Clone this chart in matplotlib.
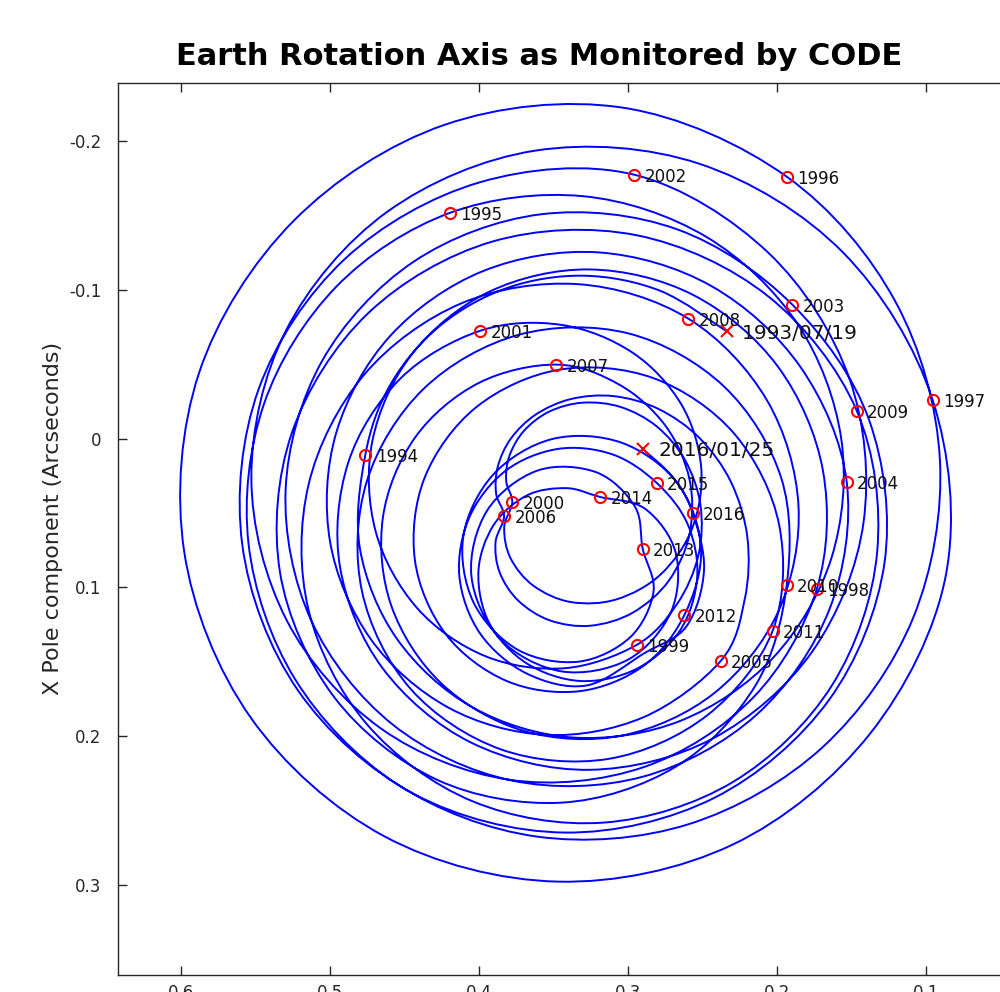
import numpy as np
import matplotlib.pyplot as plt
from matplotlib.path import Path
from matplotlib.patches import PathPatch

plt.rcParams['axes.unicode_minus'] = False

# pole track, about one point a month, 1993/07/19 .. 2016/01/25
# y_pole = horizontal (Y pole component), x_pole = vertical (X pole component), arcsec
y_pole = [
    # 1993/07/19 .. 1994
    0.2340, 0.2790, 0.3303, 0.3815, 0.4263, 0.4593, 0.4765,
    # 1994
    0.4801, 0.4551, 0.4046, 0.3369, 0.2649, 0.2027, 0.1636, 0.1571, 0.1864, 0.2478, 0.3307, 0.4199,
    # 1995
    0.4959, 0.5445, 0.5549, 0.5237, 0.4553, 0.3614, 0.2596, 0.1694, 0.1088, 0.0909, 0.1205, 0.1937,
    # 1996
    0.3037, 0.4235, 0.5248, 0.5881, 0.5981, 0.5535, 0.4636, 0.3473, 0.2302, 0.1377, 0.0868, 0.0957,
    # 1997
    0.1560, 0.2524, 0.3625, 0.4619, 0.5297, 0.5530, 0.5292, 0.4662, 0.3798, 0.2900, 0.2163, 0.1736,
    # 1998
    0.1693, 0.1997, 0.2564, 0.3259, 0.3934, 0.4451, 0.4717, 0.4696, 0.4417, 0.3959, 0.3429, 0.2944,
    # 1999
    0.2675, 0.2530, 0.2516, 0.2619, 0.2809, 0.3052, 0.3305, 0.3531, 0.3700, 0.3797, 0.3820, 0.3779,
    # 2000
    0.3833, 0.3791, 0.3637, 0.3385, 0.3077, 0.2780, 0.2570, 0.2511, 0.2644, 0.2971, 0.3448, 0.3993,
    # 2001
    0.4531, 0.4880, 0.4935, 0.4649, 0.4053, 0.3257, 0.2430, 0.1761, 0.1421, 0.1516, 0.2059, 0.2960,
    # 2002
    0.3997, 0.4904, 0.5481, 0.5591, 0.5217, 0.4436, 0.3427, 0.2424, 0.1653, 0.1281, 0.1384, 0.1899,
    # 2003
    0.2673, 0.3586, 0.4441, 0.5055, 0.5300, 0.5128, 0.4581, 0.3782, 0.2905, 0.2140, 0.1649, 0.1534,
    # 2004
    0.1842, 0.2442, 0.3205, 0.3975, 0.4599, 0.4961, 0.5002, 0.4728, 0.4207, 0.3553, 0.2902, 0.2380,
    # 2005
    0.2219, 0.2201, 0.2312, 0.2524, 0.2800, 0.3098, 0.3383, 0.3620, 0.3788, 0.3876, 0.3887, 0.3834,
    # 2006
    0.3891, 0.3864, 0.3740, 0.3527, 0.3255, 0.2970, 0.2729, 0.2589, 0.2590, 0.2751, 0.3062, 0.3483,
    # 2007
    0.4007, 0.4431, 0.4647, 0.4590, 0.4254, 0.3700, 0.3040, 0.2422, 0.1992, 0.1858, 0.2070, 0.2597,
    # 2008
    0.3338, 0.4121, 0.4774, 0.5146, 0.5146, 0.4755, 0.4047, 0.3164, 0.2295, 0.1632, 0.1330, 0.1467,
    # 2009
    0.2061, 0.2944, 0.3914, 0.4749, 0.5259, 0.5338, 0.4975, 0.4286, 0.3450, 0.2680, 0.2148, 0.1937,
    # 2010
    0.1974, 0.2359, 0.3000, 0.3734, 0.4373, 0.4756, 0.4788, 0.4462, 0.3854, 0.3130, 0.2470, 0.2031,
    # 2011
    0.1987, 0.2287, 0.2829, 0.3462, 0.4019, 0.4366, 0.4432, 0.4225, 0.3818, 0.3334, 0.2901, 0.2624,
    # 2012
    0.2512, 0.2666, 0.3043, 0.3509, 0.3906, 0.4107, 0.4040, 0.3743, 0.3336, 0.2988, 0.2831, 0.2903,
    # 2013
    0.2956, 0.3215, 0.3611, 0.3948, 0.4053, 0.3860, 0.3449, 0.3002, 0.2714, 0.2682, 0.2887, 0.3190,
    # 2014
    0.3414, 0.3679, 0.3904, 0.4006, 0.3933, 0.3681, 0.3317, 0.2940, 0.2653, 0.2538, 0.2601, 0.2809,
    # 2015
    0.3106, 0.3472, 0.3824, 0.4066, 0.4134, 0.3995, 0.3683, 0.3281, 0.2893, 0.2609, 0.2492, 0.2568,
    # 2016 .. 2016/01/25
    0.2699, 0.2903,
]
x_pole = [
    -0.0722, -0.0996, -0.1096, -0.1013, -0.0760, -0.0370, 0.0108,
    0.0741, 0.1349, 0.1807, 0.2010, 0.1897, 0.1472, 0.0800, 0.0001, -0.0771, -0.1358, -0.1631, -0.1518,
    -0.1023, -0.0234, 0.0705, 0.1617, 0.2323, 0.2676, 0.2593, 0.2073, 0.1204, 0.0140, -0.0917, -0.1762,
    -0.2226, -0.2110, -0.1463, -0.0442, 0.0757, 0.1875, 0.2675, 0.2979, 0.2731, 0.1983, 0.0913, -0.0258,
    -0.1253, -0.1849, -0.1937, -0.1525, -0.0728, 0.0263, 0.1223, 0.1948, 0.2294, 0.2210, 0.1742, 0.1013,
    0.0220, -0.0486, -0.0966, -0.1138, -0.0988, -0.0570, 0.0011, 0.0623, 0.1140, 0.1463, 0.1544, 0.1387,
    0.1115, 0.0785, 0.0446, 0.0145, -0.0082, -0.0213, -0.0242, -0.0182, -0.0053, 0.0113, 0.0282, 0.0428,
    0.0597, 0.0803, 0.0989, 0.1099, 0.1080, 0.0910, 0.0599, 0.0194, -0.0230, -0.0578, -0.0765, -0.0726,
    -0.0403, 0.0162, 0.0862, 0.1544, 0.2045, 0.2227, 0.2015, 0.1425, 0.0560, -0.0403, -0.1249, -0.1775,
    -0.1724, -0.1207, -0.0333, 0.0712, 0.1693, 0.2391, 0.2649, 0.2416, 0.1757, 0.0836, -0.0125, -0.0901,
    -0.1408, -0.1509, -0.1190, -0.0523, 0.0344, 0.1223, 0.1923, 0.2299, 0.2274, 0.1857, 0.1144, 0.0293,
    -0.0478, -0.1026, -0.1253, -0.1127, -0.0690, -0.0037, 0.0691, 0.1349, 0.1809, 0.1992, 0.1875, 0.1495,
    0.1081, 0.0664, 0.0290, -0.0006, -0.0201, -0.0286, -0.0267, -0.0163, -0.0001, 0.0188, 0.0371, 0.0522,
    0.0695, 0.0898, 0.1088, 0.1222, 0.1258, 0.1170, 0.0956, 0.0641, 0.0271, -0.0087, -0.0364, -0.0498,
    -0.0373, -0.0008, 0.0529, 0.1126, 0.1647, 0.1966, 0.1996, 0.1710, 0.1159, 0.0451, -0.0259, -0.0807,
    -0.1039, -0.0910, -0.0429, 0.0309, 0.1153, 0.1920, 0.2438, 0.2582, 0.2307, 0.1657, 0.0762, -0.0188,
    -0.0957, -0.1368, -0.1325, -0.0841, -0.0036, 0.0897, 0.1737, 0.2293, 0.2448, 0.2205, 0.1662, 0.0984,
    0.0264, -0.0352, -0.0708, -0.0699, -0.0336, 0.0290, 0.1024, 0.1682, 0.2090, 0.2153, 0.1860, 0.1291,
    0.0584, -0.0031, -0.0406, -0.0464, -0.0213, 0.0260, 0.0819, 0.1315, 0.1629, 0.1699, 0.1530, 0.1186,
    0.0742, 0.0305, 0.0028, 0.0002, 0.0241, 0.0654, 0.1099, 0.1419, 0.1500, 0.1336, 0.1029, 0.0742,
    0.0457, 0.0226, 0.0215, 0.0484, 0.0925, 0.1348, 0.1565, 0.1486, 0.1166, 0.0768, 0.0472, 0.0392,
    0.0333, 0.0381, 0.0581, 0.0894, 0.1241, 0.1512, 0.1630, 0.1546, 0.1290, 0.0933, 0.0577, 0.0298,
    0.0106, 0.0069, 0.0216, 0.0527, 0.0924, 0.1310, 0.1579, 0.1660, 0.1443, 0.1261, 0.0883, 0.0500,
    0.0262, 0.0069,
]

# January 1st of every year sits at these points of the track
year_labels = [str(y) for y in range(1994, 2017)]
year_idx = list(range(6, 271, 12))
start_label = '1993/07/19'
end_label = '2016/01/25'

x_ticks = [0.6, 0.5, 0.4, 0.3, 0.2, 0.1]
x_ticklabels = ['0.6', '0.5', '0.4', '0.3', '0.2', '0.1']
y_ticks = [-0.2, -0.1, 0.0, 0.1, 0.2, 0.3]
y_ticklabels = ['-0.2', '-0.1', '0', '0.1', '0.2', '0.3']

fig = plt.figure(figsize=(10, 9.92), dpi=100)
ax = fig.add_axes([0.118, 0.01714, 0.894, 0.8992])

# draw the track as a smooth curve through the monthly points
pts = np.column_stack([y_pole, x_pole])
prev = np.vstack([pts[:1], pts[:-1]])
nxt = np.vstack([pts[1:], pts[-1:]])
tang = (nxt - prev) / 6.0
verts = [pts[0]]
codes = [Path.MOVETO]
for k in range(len(pts) - 1):
    verts += [pts[k] + tang[k], pts[k + 1] - tang[k + 1], pts[k + 1]]
    codes += [Path.CURVE4] * 3
ax.add_patch(PathPatch(Path(verts, codes), facecolor='none',
                       edgecolor='#0000ff', linewidth=1.4, zorder=2))

# yearly markers
ax.plot([y_pole[i] for i in year_idx], [x_pole[i] for i in year_idx], 'o',
        markersize=8, markerfacecolor='none', markeredgecolor='red',
        markeredgewidth=1.5, zorder=3)
for lab, i in zip(year_labels, year_idx):
    ax.annotate(lab, (y_pole[i], x_pole[i]), xytext=(7.5, 0),
                textcoords='offset points', va='center_baseline',
                fontsize=12, color='#111111', zorder=4)

# first and last day
for i, lab in ((0, start_label), (len(y_pole) - 1, end_label)):
    ax.plot(y_pole[i], x_pole[i], 'x', markersize=9, markeredgewidth=1.5,
            color='red', zorder=3)
    ax.annotate(lab, (y_pole[i], x_pole[i]), xytext=(11, 0),
                textcoords='offset points', va='center_baseline',
                fontsize=14.5, color='#111111', zorder=4)

ax.set_xlim(0.6425, 0.0425)
ax.set_ylim(0.3607, -0.2392)
ax.set_xticks(x_ticks, x_ticklabels)
ax.set_yticks(y_ticks, y_ticklabels)
ax.tick_params(direction='in', length=6.5, width=1.0, top=True, right=True,
               labelsize=12, colors='#262626')
ax.tick_params(axis='y', pad=12)
ax.tick_params(axis='x', pad=6.5)
for s in ax.spines.values():
    s.set_color('#262626')
    s.set_linewidth(1.0)

ax.set_ylabel('X Pole component (Arcseconds)', fontsize=16, color='#262626')
ax.yaxis.set_label_coords(-0.0615, 0.512)

fig.text(0.5395, 1 - 65 / 992, 'Earth Rotation Axis as Monitored by CODE',
         ha='center', va='baseline', fontsize=22, fontweight='bold')

fig.savefig('out.png', dpi=100)
